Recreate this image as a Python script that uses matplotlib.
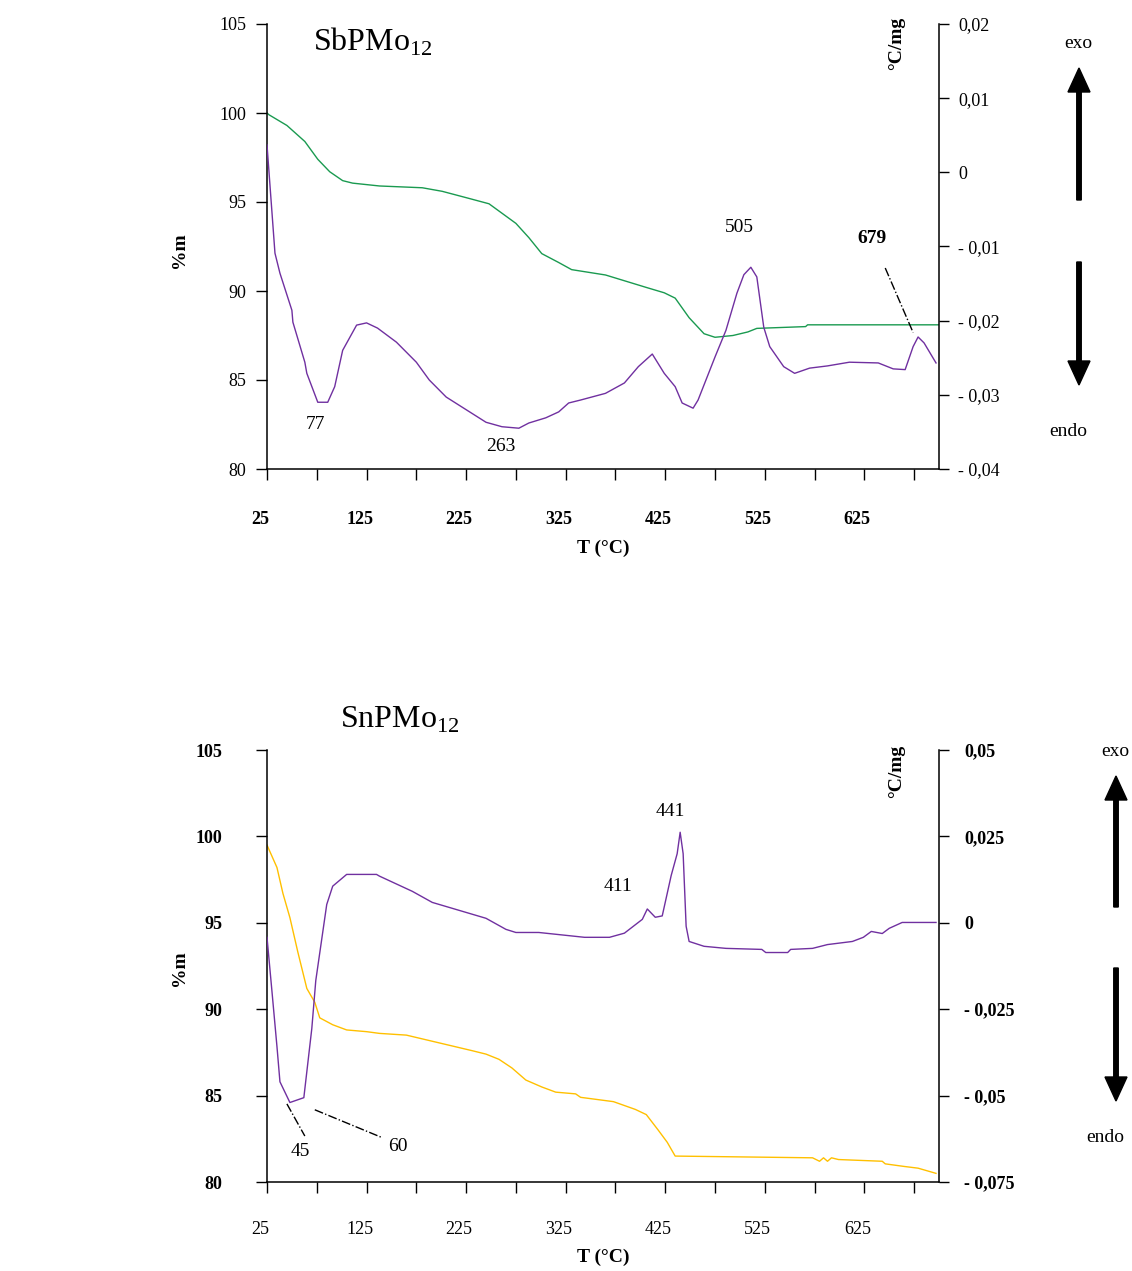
import matplotlib
matplotlib.use("Agg")
import matplotlib.pyplot as plt
import matplotlib.transforms as mtransforms
import numpy as np

plt.rcParams['font.family'] = ['Liberation Serif', 'DejaVu Serif']
plt.rcParams['mathtext.fontset'] = 'custom'
plt.rcParams['mathtext.rm'] = 'Liberation Serif'

# ---- SbPMo12 (top) ----
sb_tg_T = [25, 27, 45, 63, 76, 88, 101, 111, 138, 181, 201, 228, 248, 275, 288, 301, 318,
           331, 365, 406, 424, 435, 449, 464, 475, 493, 508, 517, 566, 568, 700]
sb_tg_m = [100, 99.9, 99.3, 98.4, 97.4, 96.7, 96.2, 96.06, 95.9, 95.8, 95.6, 95.2, 94.9, 93.8,
           93.0, 92.1, 91.6, 91.2, 90.9, 90.2, 89.9, 89.6, 88.5, 87.6, 87.4, 87.5, 87.7, 87.9,
           88.0, 88.1, 88.1]

sb_dtg_T = [25, 33, 38, 50, 51, 63, 65, 76, 86, 93, 101, 115, 125, 136, 155, 175, 188, 205, 225,
            245, 261, 278, 288, 305, 318, 328, 340, 365, 384, 398, 412, 424, 435, 442, 453, 458,
            475, 486, 497, 504, 511, 517, 524, 530, 544, 555, 570, 588, 610, 639, 654, 666, 674,
            679, 685, 697]
sb_dtg = [0.0037, -0.0109, -0.0136, -0.0186, -0.0202, -0.0256, -0.0271, -0.0310, -0.0310,
          -0.0289, -0.0240, -0.0206, -0.0203, -0.0210, -0.0229, -0.0256, -0.0280, -0.0303,
          -0.0320, -0.0337, -0.0343, -0.0345, -0.0338, -0.0331, -0.0323, -0.0311, -0.0307,
          -0.0298, -0.0284, -0.0262, -0.0245, -0.0271, -0.0289, -0.0311, -0.0318, -0.0307,
          -0.0249, -0.0213, -0.0163, -0.0138, -0.0128, -0.0141, -0.0209, -0.0235, -0.0262,
          -0.0271, -0.0264, -0.0261, -0.0256, -0.0257, -0.0265, -0.0266, -0.0235, -0.0222,
          -0.0230, -0.0257]

# ---- SnPMo12 (bottom) ----
sn_tg_T = [25, 35, 41, 48, 56, 65, 73, 78, 91, 105, 125, 138, 165, 231, 245, 258, 271, 285,
           301, 315, 335, 340, 373, 395, 406, 418, 427, 435, 573, 580, 584, 588, 592, 599, 643,
           646, 665, 679, 697]
sn_tg_m = [99.5, 98.2, 96.7, 95.3, 93.3, 91.2, 90.4, 89.5, 89.1, 88.8, 88.7, 88.6, 88.5, 87.6,
           87.4, 87.1, 86.6, 85.9, 85.5, 85.2, 85.1, 84.9, 84.65, 84.2, 83.9, 83.0, 82.3, 81.5,
           81.4, 81.2, 81.4, 81.2, 81.4, 81.3, 81.2, 81.05, 80.9, 80.8, 80.5]

sn_dtg_T = [25, 30, 35, 38, 48, 62, 70, 74, 85, 91, 105, 135, 138, 171, 191, 218, 245, 265, 275,
            298, 344, 369, 384, 402, 407, 415, 422, 431, 437, 440, 443, 446, 449, 464, 486, 522,
            526, 548, 551, 573, 588, 613, 624, 632, 643, 650, 663, 697]
sn_dtg = [-0.0042, -0.0199, -0.0358, -0.046, -0.052, -0.0506, -0.0306, -0.0167, 0.0053, 0.0106,
          0.0140, 0.0140, 0.0135, 0.0091, 0.0059, 0.0036, 0.0013, -0.0019, -0.0028, -0.0028,
          -0.0042, -0.0042, -0.0030, 0.0010, 0.0040, 0.0016, 0.0020, 0.0137, 0.0200, 0.0262,
          0.0200, -0.0010, -0.0054, -0.0068, -0.0074, -0.0077, -0.0086, -0.0086, -0.0077,
          -0.0074, -0.0063, -0.0054, -0.0042, -0.0025, -0.0031, -0.0016, 0.0001, 0.0001]

x_ticks = list(range(25, 700, 50))
x_labels = [str(t) if (t - 25) % 100 == 0 else '' for t in x_ticks]
m_ticks = [80, 85, 90, 95, 100, 105]
sb_r_ticks = [-0.04, -0.03, -0.02, -0.01, 0, 0.01, 0.02]
sb_r_labels = ['- 0,04', '- 0,03', '- 0,02', '- 0,01', '0', '0,01', '0,02']
sn_r_ticks = [-0.075, -0.05, -0.025, 0, 0.025, 0.05]
sn_r_labels = ['- 0,075', '- 0,05', '- 0,025', '0', '0,025', '0,05']

green = '#1a9a50'
purple = '#7030a0'
gold = '#ffc000'

W, H = 1132, 1271
fig = plt.figure(figsize=(W / 100, H / 100), dpi=100)


def frac(x0, y0, x1, y1):
    return [x0 / W, 1 - y1 / H, (x1 - x0) / W, (y1 - y0) / H]


def setup(ax, axr, rlim, rticks, rlabels, ypad, rpad, xpad, lbold, rbold, xbold):
    ax.set_xlim(25, 700)
    ax.set_ylim(80, 105)
    axr.set_ylim(*rlim)
    for a in (ax, axr):
        a.spines['top'].set_visible(False)
        a.set_facecolor('none')
    ax.spines['right'].set_visible(False)
    axr.spines['left'].set_visible(False)
    axr.spines['bottom'].set_visible(False)
    for s in ('left', 'bottom'):
        ax.spines[s].set_linewidth(1.1)
    axr.spines['right'].set_linewidth(1.1)
    ax.set_xticks(x_ticks)
    ax.set_xticklabels(x_labels, fontsize=13, fontweight='bold' if xbold else 'normal')
    ax.set_yticks(m_ticks)
    ax.set_yticklabels([str(v) for v in m_ticks], fontsize=13,
                       fontweight='bold' if lbold else 'normal')
    axr.set_yticks(rticks)
    axr.set_yticklabels(rlabels, fontsize=13, fontweight='bold' if rbold else 'normal')
    ax.tick_params(axis='x', direction='out', length=8, width=1, pad=xpad)
    ax.tick_params(axis='y', direction='out', length=8, width=1, pad=ypad)
    axr.tick_params(axis='y', direction='out', length=7, width=1, pad=rpad)
    off = mtransforms.ScaledTranslation(-0.07, 0, fig.dpi_scale_trans)
    for lbl in ax.get_xticklabels():
        lbl.set_transform(lbl.get_transform() + off)


# top chart
ax1 = fig.add_axes(frac(267, 24, 939, 469))
ax1r = ax1.twinx()
setup(ax1, ax1r, (-0.04, 0.02), sb_r_ticks, sb_r_labels, 7, 7, 22, False, False, True)
ax1.plot(sb_tg_T, sb_tg_m, color=green, lw=1.0)
ax1r.plot(sb_dtg_T, sb_dtg, color=purple, lw=1.0)
ax1r.text(74, -0.0340, '77', fontsize=14, ha='center', va='center')
ax1r.text(260, -0.0369, '263', fontsize=14, ha='center', va='center')
ax1r.text(499, -0.0075, '505', fontsize=14, ha='center', va='center')
ax1r.text(633, -0.0089, '679', fontsize=14, ha='center', va='center', fontweight='bold')
ax1r.plot([646, 674], [-0.0129, -0.0216], color='k', lw=1, ls='-.')

# bottom chart
ax2 = fig.add_axes(frac(267, 750, 939, 1182))
ax2r = ax2.twinx()
setup(ax2, ax2r, (-0.075, 0.05), sn_r_ticks, sn_r_labels, 24, 11, 20, True, True, False)
ax2.plot(sn_tg_T, sn_tg_m, color=gold, lw=1.0)
ax2r.plot(sn_dtg_T, sn_dtg, color=purple, lw=1.0)
ax2r.text(430, 0.0323, '441', fontsize=14, ha='center', va='center')
ax2r.text(378, 0.0105, '411', fontsize=14, ha='center', va='center')
ax2r.text(156, -0.0646, '60', fontsize=14, ha='center', va='center')
ax2r.text(58, -0.0663, '45', fontsize=14, ha='center', va='center')
ax2r.plot([45, 63], [-0.0524, -0.0617], color='k', lw=1, ls='-.')
ax2r.plot([73, 141], [-0.0541, -0.0622], color='k', lw=1, ls='-.')

# overlay for titles, axis names and exo/endo arrows
ov = fig.add_axes([0, 0, 1, 1])
ov.set_xlim(0, W)
ov.set_ylim(H, 0)
ov.axis('off')

ov.text(313, 42, r'SbPMo$_{12}$', fontsize=23, ha='left', va='center')
ov.text(340, 720, r'SnPMo$_{12}$', fontsize=23, ha='left', va='center')

for yc in (250, 968):
    ov.text(180, yc, '%m', fontsize=14, fontweight='bold', rotation=90,
            ha='center', va='center')
for yc in (43, 771):
    ov.text(897, yc, '°C/mg', fontsize=14, fontweight='bold', rotation=90,
            ha='center', va='center')
for yc in (548, 1257):
    ov.text(603, yc, 'T (°C)', fontsize=14, fontweight='bold', ha='center', va='center')

arrow_kw = dict(width=4.5, head_width=22, head_length=24, length_includes_head=True,
                color='k')
# top
ov.text(1078, 44, 'exo', fontsize=14, ha='center', va='center')
ov.arrow(1079, 200, 0, -132, **arrow_kw)
ov.arrow(1079, 262, 0, 123, **arrow_kw)
ov.text(1068, 432, 'endo', fontsize=14, ha='center', va='center')
# bottom
ov.text(1115, 751, 'exo', fontsize=14, ha='center', va='center')
ov.arrow(1116, 907, 0, -131, **arrow_kw)
ov.arrow(1116, 968, 0, 133, **arrow_kw)
ov.text(1105, 1138, 'endo', fontsize=14, ha='center', va='center')

fig.savefig('out.png', dpi=100)
